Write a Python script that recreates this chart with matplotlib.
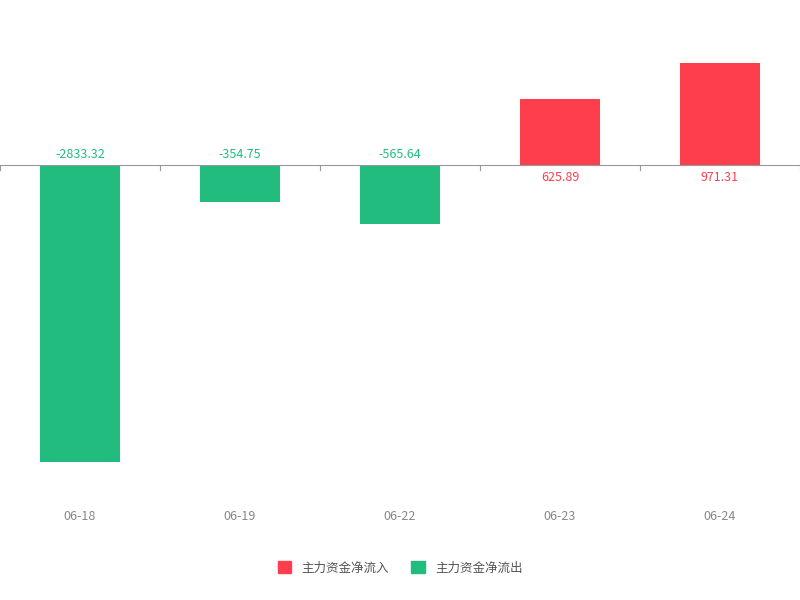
import numpy as np
import matplotlib.pyplot as plt
import matplotlib.transforms as mtransforms
from matplotlib.patches import Patch

plt.rcParams['font.family'] = ['Noto Sans CJK SC', 'DejaVu Sans']

dates = ['06-18', '06-19', '06-22', '06-23', '06-24']
values = [-2833.32, -354.75, -565.64, 625.89, 971.31]

red = '#ff3e4d'
green = '#21bc7e'

fig = plt.figure(figsize=(8, 6), dpi=100)
ax = fig.add_axes([0, 1 - 495 / 600, 1, 465 / 600])

x = np.arange(len(dates))
colors = [red if v > 0 else green for v in values]
ax.bar(x, values, 0.5, color=colors)
ax.set_xlim(-0.5, len(dates) - 0.5)
ax.set_ylim(-3146, 1287)

ax.axhline(0, color='#999999', lw=0.8)
for b in np.arange(len(dates) + 1) - 0.5:
    ax.plot([b, b], [0, -45], color='#999999', lw=0.8)

for xi, v, c in zip(x, values, colors):
    if v < 0:
        ax.annotate('%.2f' % v, (xi, 0), xytext=(0, 3), textcoords='offset points',
                    ha='center', va='bottom', color=c, fontsize=9)
    else:
        ax.annotate('%.2f' % v, (xi, 0), xytext=(0, -4), textcoords='offset points',
                    ha='center', va='top', color=c, fontsize=9)

trans = mtransforms.blended_transform_factory(ax.transData, fig.transFigure)
for xi, d in zip(x, dates):
    ax.text(xi, 1 - 516 / 600, d, transform=trans, ha='center', va='center',
            color='#888888', fontsize=9)

for s in ax.spines.values():
    s.set_visible(False)
ax.set_xticks([])
ax.set_yticks([])

handles = [Patch(color=red), Patch(color=green)]
fig.legend(handles, ['主力资金净流入', '主力资金净流出'], loc='center',
           bbox_to_anchor=(0.5, 1 - 568 / 600), ncol=2, frameon=False,
           fontsize=9, handlelength=1.1, handleheight=1.1, columnspacing=1.8,
           labelcolor='#555555')

fig.savefig('out.png', dpi=100)
